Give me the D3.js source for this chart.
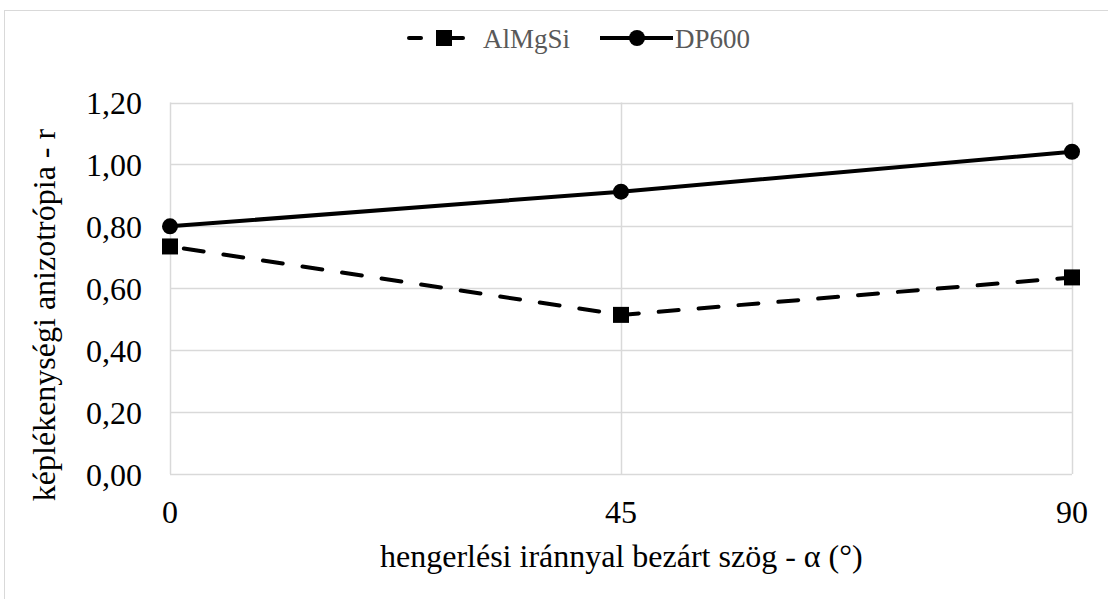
<!DOCTYPE html>
<html><head><meta charset="utf-8">
<script src="https://cdn.jsdelivr.net/npm/d3@7"></script>
</head><body style="margin:0;background:#fff">
<svg id="c" width="1108" height="599"></svg>
<script>
const categories = [0, 45, 90];
const seriesNames = ["AlMgSi", "DP600"];
const alMgSi = [0.735, 0.514, 0.635];
const dp600 = [0.80, 0.912, 1.041];
const yTicks = [0, 0.2, 0.4, 0.6, 0.8, 1.0, 1.2];
const xTitle = "hengerlési iránnyal bezárt szög - α (°)";
const yTitle = "képlékenységi anizotrópia - r";

const svg = d3.select("#c");
const m = {l:170, r:1072, t:102.5, b:474};
const x = d3.scaleLinear().domain([0,90]).range([m.l, m.r]);
const y = d3.scaleLinear().domain([0,1.2]).range([m.b, m.t]);

function txt(sel, size, color) {
  return sel.style("font-family", "Liberation Serif").style("font-size", size + "px").attr("fill", color || "#000");
}

// chart border
svg.append("rect").attr("x",4.5).attr("y",10.5).attr("width",1110).attr("height",600)
  .attr("fill","none").attr("stroke","#d9d9d9").attr("stroke-width",1);

// gridlines
svg.append("g").selectAll("line").data(yTicks).join("line")
  .attr("x1",m.l).attr("x2",m.r).attr("y1",d=>Math.round(y(d))+0.5).attr("y2",d=>Math.round(y(d))+0.5)
  .attr("stroke","#d9d9d9").attr("stroke-width",1.5);
svg.append("g").selectAll("line").data(categories).join("line")
  .attr("x1",d=>Math.round(x(d))+0.5).attr("x2",d=>Math.round(x(d))+0.5).attr("y1",m.t).attr("y2",m.b)
  .attr("stroke","#d9d9d9").attr("stroke-width",1.5);

// tick labels
const fmt = d => d.toFixed(2).replace(".", ",");
txt(svg.append("g").selectAll("text").data(yTicks).join("text")
  .attr("x",142).attr("y",d=>y(d)+11.5), 32).attr("text-anchor","end").text(fmt);
txt(svg.append("g").selectAll("text").data(categories).join("text")
  .attr("x",d=>x(d)).attr("y",523), 32).attr("text-anchor","middle").text(d=>d);

// axis titles
txt(svg.append("text").attr("x",380).attr("y",567), 32).attr("text-anchor","start").text(xTitle);
txt(svg.append("text").attr("transform",`translate(55,${315}) rotate(-90)`), 32)
  .attr("text-anchor","middle").text(yTitle);

// series
const line = d3.line().x((d,i)=>x(categories[i])).y(d=>y(d));
svg.append("path").datum(alMgSi).attr("d",line).attr("fill","none").attr("stroke","#000")
  .attr("stroke-width",4).attr("stroke-dasharray","20,20").attr("stroke-dashoffset",-14).attr("stroke-linecap","round");
svg.append("g").selectAll("rect").data(alMgSi).join("rect")
  .attr("x",(d,i)=>x(categories[i])-8).attr("y",d=>y(d)-8).attr("width",16).attr("height",16).attr("fill","#000");
svg.append("path").datum(dp600).attr("d",line).attr("fill","none").attr("stroke","#000").attr("stroke-width",4);
svg.append("g").selectAll("circle").data(dp600).join("circle")
  .attr("cx",(d,i)=>x(categories[i])).attr("cy",d=>y(d)).attr("r",8).attr("fill","#000");

// legend
const ly = 38;
svg.append("line").attr("x1",409).attr("x2",421).attr("y1",ly).attr("y2",ly).attr("stroke","#000")
  .attr("stroke-width",4).attr("stroke-linecap","round");
svg.append("line").attr("x1",448).attr("x2",463).attr("y1",ly).attr("y2",ly).attr("stroke","#000")
  .attr("stroke-width",4).attr("stroke-linecap","round");
svg.append("rect").attr("x",436).attr("y",ly-8).attr("width",16).attr("height",16).attr("fill","#000");
txt(svg.append("text").attr("x",483).attr("y",ly+10), 27, "#595959").text(seriesNames[0]);
svg.append("line").attr("x1",600).attr("x2",673).attr("y1",ly).attr("y2",ly).attr("stroke","#000").attr("stroke-width",4);
svg.append("circle").attr("cx",637).attr("cy",ly).attr("r",8).attr("fill","#000");
txt(svg.append("text").attr("x",675).attr("y",ly+10), 27, "#595959").text(seriesNames[1]);
</script>
</body></html>
